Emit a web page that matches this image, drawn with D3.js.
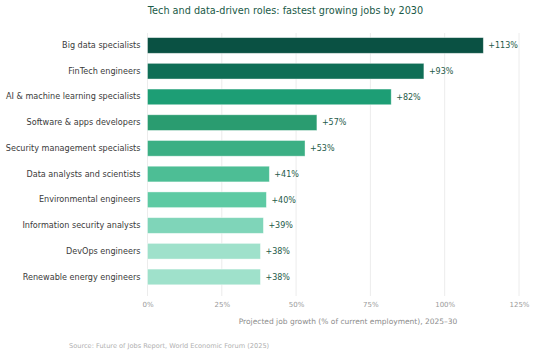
<!DOCTYPE html>
<html>
<head>
<meta charset="utf-8">
<script src="https://cdn.jsdelivr.net/npm/d3@7"></script>
<style>
  body { margin: 0; background: #fff; }
  svg { display: block; font-family: "DejaVu Sans", sans-serif; }
</style>
</head>
<body>
<div id="chart"></div>
<script>
// roles and growth values (%)
var roles = [
  "Big data specialists",
  "FinTech engineers",
  "AI & machine learning specialists",
  "Software & apps developers",
  "Security management specialists",
  "Data analysts and scientists",
  "Environmental engineers",
  "Information security analysts",
  "DevOps engineers",
  "Renewable energy engineers"
]
var growth = [113, 93, 82, 57, 53, 41, 40, 39, 38, 38]
var barColors = ["#0a5143", "#0f6e56", "#1d9e75", "#2a9c70", "#3baf84",
                 "#4dbe95", "#5dcaa3", "#7fd5b9", "#9fe1cb", "#9fe1cb"]
var xTicks = [0, 25, 50, 75, 100, 125]

var width = 555
var height = 352
var margin = {top: 33, right: 36, bottom: 56, left: 147.5}

var svg = d3.select("#chart")
    .append("svg")
    .attr("width", width)
    .attr("height", height)

var xScale = d3.scaleLinear()
    .range([margin.left, width - margin.right])
    .domain([0, 125])

var yScale = d3.scaleBand()
    .range([32.6, 289.8])
    .paddingInner(0.39)
    .paddingOuter(0.195)
    .domain(roles)

// gridlines
svg.append("g").attr("class", "grid")
  .selectAll("line")
  .data(xTicks)
  .enter()
  .append("line")
    .attr("x1", function(d) { return xScale(d) })
    .attr("x2", function(d) { return xScale(d) })
    .attr("y1", 33)
    .attr("y2", 296)
    .attr("stroke", "#ececec")
    .attr("stroke-width", 1)

// bars
svg.append("g").attr("class", "bars")
  .selectAll("rect")
  .data(roles)
  .enter()
  .append("rect")
    .attr("x", xScale(0))
    .attr("y", function(d) { return yScale(d) })
    .attr("width", function(d, i) { return xScale(growth[i]) - xScale(0) })
    .attr("height", yScale.bandwidth())
    .attr("fill", function(d, i) { return barColors[i] })
    .attr("stroke", "#ffffff")
    .attr("stroke-opacity", 0.5)
    .attr("stroke-width", 0.8)

// value labels
svg.append("g").attr("class", "values")
  .selectAll("text")
  .data(roles)
  .enter()
  .append("text")
    .attr("x", function(d, i) { return xScale(growth[i]) + 5 })
    .attr("y", function(d) { return yScale(d) + yScale.bandwidth() / 2 })
    .attr("dy", "0.35em")
    .attr("font-size", 8)
    .attr("fill", "#1e5a48")
    .text(function(d, i) { return "+" + growth[i] + "%" })

// category labels
var yAxis = svg.append("g")
    .attr("class", "y-axis")
    .attr("transform", "translate(" + (margin.left - 1) + ",0)")
    .call(d3.axisLeft(yScale).tickSize(0).tickPadding(6))
yAxis.select(".domain").remove()
yAxis.selectAll("text")
    .attr("font-size", 8.1)
    .attr("font-family", "DejaVu Sans, sans-serif")
    .attr("fill", "#3a3a3a")

// x axis
var xAxis = svg.append("g")
    .attr("class", "x-axis")
    .attr("transform", "translate(0,296)")
    .call(d3.axisBottom(xScale).tickValues(xTicks).tickSize(0).tickPadding(6)
      .tickFormat(function(d) { return d + "%" }))
xAxis.select(".domain").remove()
xAxis.selectAll("text")
    .attr("font-size", 7)
    .attr("font-family", "DejaVu Sans, sans-serif")
    .attr("fill", "#9a9a9a")

// axis title
svg.append("text")
    .attr("x", 348)
    .attr("y", 323.5)
    .attr("text-anchor", "middle")
    .attr("font-size", 7.5)
    .attr("fill", "#8c8c8c")
    .text("Projected job growth (% of current employment), 2025\u201330")

// title
svg.append("text")
    .attr("x", 285.5)
    .attr("y", 14)
    .attr("text-anchor", "middle")
    .attr("font-size", 9.7)
    .attr("fill", "#1a5a47")
    .text("Tech and data-driven roles: fastest growing jobs by 2030")

// source
svg.append("text")
    .attr("x", 69)
    .attr("y", 347.5)
    .attr("font-size", 6.6)
    .attr("fill", "#b0b0b0")
    .text("Source: Future of Jobs Report, World Economic Forum (2025)")
</script>
</body>
</html>
